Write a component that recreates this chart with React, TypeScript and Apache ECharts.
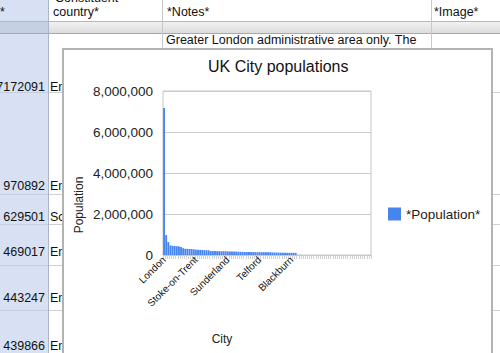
import React, { useEffect, useRef } from "react";
import * as echarts from "echarts";

const cities: string[] = [
  "London", "Birmingham", "Glasgow", "Liverpool", "Leeds", "Sheffield", "Edinburgh", "Bristol",
  "Manchester", "Leicester", "Coventry", "Kingston upon Hull", "Bradford", "Cardiff", "Belfast",
  "Stoke-on-Trent", "Wolverhampton", "Nottingham", "Plymouth", "Southampton", "Reading", "Derby",
  "Dudley", "Newcastle upon Tyne", "Northampton", "Portsmouth", "Luton", "Preston", "Aberdeen",
  "Milton Keynes", "Sunderland", "Norwich", "Walsall", "Swansea", "Bournemouth", "Southend-on-Sea",
  "Swindon", "Dundee", "Huddersfield", "Poole", "Oxford", "Middlesbrough", "Blackpool", "Bolton",
  "Ipswich", "Telford", "York", "West Bromwich", "Peterborough", "Stockport", "Brighton", "Slough",
  "Gloucester", "Watford", "Rotherham", "Newport", "Cambridge", "Exeter", "Eastbourne",
  "Sutton Coldfield", "Blackburn", "Colchester", "Oldham",
];
const population: number[] = [
  7172091, 970892, 629501, 469017, 443247, 439866, 430082, 420556,
  394269, 330574, 303475, 301416, 293717, 292150, 276459,
  259252, 251462, 249584, 243795, 234224, 232662, 229407,
  194919, 189863, 189474, 187056, 185543, 184836, 184788,
  184506, 177739, 174047, 170994, 169880, 167527, 160257,
  155432, 154674, 146234, 144800, 143016, 142691, 142283, 139403,
  138718, 138241, 137505, 136940, 136292, 136082, 134293, 126276,
  123205, 120960, 117262, 116143, 108863, 106772, 106562,
  105452, 105085, 104390, 103544,
];
const emptyRowCount = 35;
const countries: string[] = ["England", "England", "Scotland", "England", "England", "England"];
const yTicks: number[] = [0, 2000000, 4000000, 6000000, 8000000];

const FONT = "Arial, 'Liberation Sans', sans-serif";

export default function App() {
  const ref = useRef<HTMLDivElement>(null);
  useEffect(() => {
    document.body.style.margin = "0";
    const chart = echarts.init(ref.current!, null, { renderer: "svg" });
    const cats = cities.concat(Array.from({ length: emptyRowCount }, () => ""));
    const vals: (number | null)[] = (population as (number | null)[]).concat(
      Array.from({ length: emptyRowCount }, () => null)
    );
    const rowTextY = [87, 186, 217, 252, 298, 346];
    const rowLines = [92, 194, 224, 265, 310];
    const ssText = (text: string, x: number, y: number, align: string = "left") => ({
      type: "text", z: -5, x, y,
      style: { text, fill: "#111", font: `12.5px ${FONT}`, textAlign: align, textVerticalAlign: "middle" },
    });
    const line = (x1: number, y1: number, x2: number, y2: number, stroke: string) => ({
      type: "line", z: -5, shape: { x1, y1, x2, y2 }, style: { stroke, lineWidth: 1 },
    });
    const graphics: any[] = [
      { type: "rect", z: -6, shape: { x: 0, y: 0, width: 500, height: 353 }, style: { fill: "#ffffff" } },
      { type: "rect", z: -6, shape: { x: 0, y: 0, width: 48, height: 353 }, style: { fill: "#d7e1f3" } },
      { type: "rect", z: -6, shape: { x: 48, y: 21, width: 452, height: 12 },
        style: { fill: new echarts.graphic.LinearGradient(0, 0, 0, 1, [
          { offset: 0, color: "#f4f4f4" }, { offset: 1, color: "#dcdcdc" }]) } },
      { type: "rect", z: -6, shape: { x: 0, y: 21, width: 48, height: 12 }, style: { fill: "#c6d0e3" } },
      line(0, 21.5, 500, 21.5, "#b8b8b8"),
      line(0, 33.5, 500, 33.5, "#a8a8a8"),
      line(48.5, 0, 48.5, 353, "#a9b5cb"),
      line(162.5, 0, 162.5, 60, "#c8c8c8"),
      line(431.5, 0, 431.5, 60, "#c8c8c8"),
      ...rowLines.map((y) => line(0, y + 0.5, 48, y + 0.5, "#c4cee2")),
      ...rowLines.map((y) => line(49, y + 0.5, 500, y + 0.5, "#d0d0d0")),
      ssText("*", 0, 12),
      ssText("Constituent", 55, -2),
      ssText("country*", 53, 12),
      ssText("*Notes*", 167, 12),
      ssText("*Image*", 434, 12),
      ssText("Greater London administrative area only. The", 166, 40),
      ...rowTextY.map((y, i) => ssText(String(population[i]), 45, y, "right")),
      ...rowTextY.map((y, i) => ssText(countries[i], 50, y)),
      { type: "rect", z: -4, shape: { x: 63, y: 49, width: 429, height: 330 },
        style: { fill: "#ffffff", stroke: "#b2b2b2", lineWidth: 2 } },
      { type: "text", z: 5, x: 79, y: 205, rotation: Math.PI / 2,
        style: { text: "Population", fill: "#222", font: `12px ${FONT}`, textAlign: "center", textVerticalAlign: "middle" } },
      { type: "text", z: 5, x: 222, y: 339,
        style: { text: "City", fill: "#222", font: `12px ${FONT}`, textAlign: "center", textVerticalAlign: "middle" } },
    ];
    chart.setOption({
      animation: false,
      backgroundColor: "transparent",
      title: {
        text: "UK City populations",
        left: 208, top: 58, padding: 0,
        textStyle: { fontFamily: FONT, fontSize: 16, fontWeight: "normal", color: "#111" },
      },
      graphic: { elements: graphics },
      legend: {
        left: 388, top: 207, padding: 0, itemWidth: 13, itemHeight: 13, icon: "rect",
        textStyle: { fontFamily: FONT, fontSize: 13.5, color: "#222" },
        data: ["*Population*"],
      },
      grid: { left: 163, top: 91, width: 208, height: 164, show: true, borderColor: "#c4c4c4", borderWidth: 1 },
      xAxis: {
        type: "category",
        data: cats,
        axisLine: { lineStyle: { color: "#c4c4c4" } },
        axisTick: { show: true, interval: 0, length: 4, lineStyle: { color: "#cfcfcf" } },
        axisLabel: { interval: 14, rotate: 45, fontSize: 10, margin: 3, color: "#111", fontFamily: FONT },
      },
      yAxis: {
        type: "value",
        min: yTicks[0],
        max: yTicks[yTicks.length - 1],
        interval: yTicks[1] - yTicks[0],
        axisLine: { show: false },
        axisTick: { show: false },
        splitLine: { lineStyle: { color: "#cccccc" } },
        axisLabel: {
          fontSize: 13.5, margin: 10, color: "#222", fontFamily: FONT,
          formatter: (v: number) => v.toLocaleString("en-US"),
        },
      },
      series: [
        {
          name: "*Population*",
          type: "bar",
          data: vals,
          itemStyle: { color: "#4684ee" },
          barCategoryGap: "12%",
        },
      ],
    });
    return () => chart.dispose();
  }, []);
  return <div ref={ref} style={{ width: 500, height: 353 }} />;
}
